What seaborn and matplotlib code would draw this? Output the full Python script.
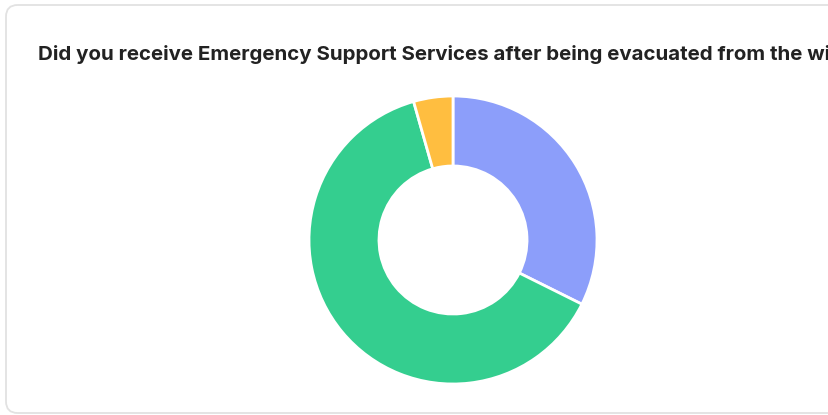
import matplotlib
matplotlib.use("Agg")
import matplotlib.pyplot as plt
from matplotlib.patches import FancyBboxPatch
import seaborn as sns

# Data
categories = ["Yes", "No", "Not sure"]
counts = [22, 43, 3]
colors = ["#8C9EFA", "#34CE8F", "#FFBE40"]
title = "Did you receive Emergency Support Services after being evacuated from the wildfire?"

sns.set_theme(style="white")
plt.rcParams['font.family'] = ['Inter', 'DejaVu Sans']

W, H = 829, 415
fig = plt.figure(figsize=(W / 100, H / 100), dpi=100)
fig.patch.set_facecolor("white")

# Card background with rounded corners
card = FancyBboxPatch((6 / W, 2 / H), (W + 40) / W, (H - 7) / H,
                      boxstyle="round,pad=0,rounding_size=0.014",
                      transform=fig.transFigure, facecolor="white",
                      edgecolor="#E2E2E2", linewidth=1.3,
                      mutation_aspect=W / H, zorder=-10)
fig.patches.append(card)

fig.text(38 / W, 1 - 59.5 / H, title, fontsize=14.75, fontweight="bold",
         color="#222222", ha="left", va="baseline")

cx, cy, r = 453, 240, 144
ax = fig.add_axes([(cx - r) / W, (H - cy - r) / H, 2 * r / W, 2 * r / H])
ax.set_zorder(5)
ax.patch.set_visible(False)
ax.pie(counts, colors=colors, startangle=90, counterclock=False,
       radius=1.0, wedgeprops=dict(width=0.486, edgecolor="white", linewidth=2))
ax.set_xlim(-1, 1)
ax.set_ylim(-1, 1)
ax.set_aspect("equal")
ax.axis("off")

fig.savefig("out.png", dpi=100)
